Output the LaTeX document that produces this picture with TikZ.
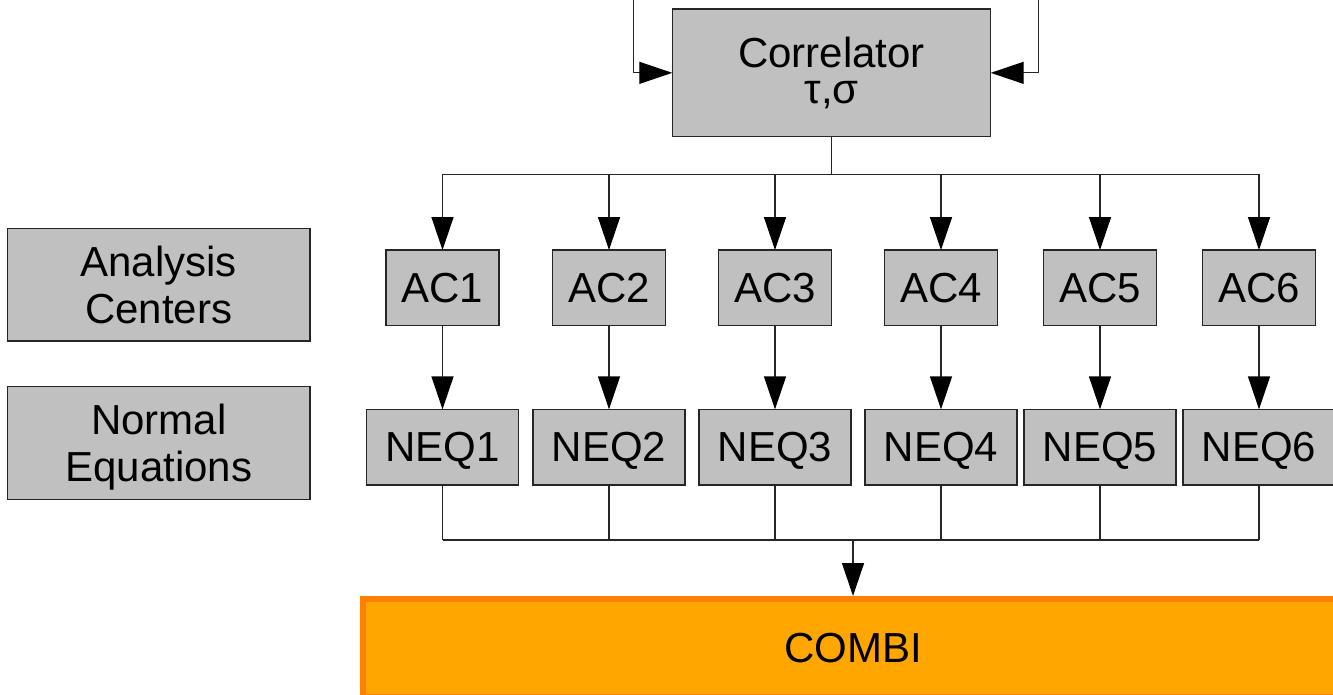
\documentclass[tikz,border=0pt]{standalone}
\usepackage{fontspec}
\setmainfont{Liberation Sans}
\usetikzlibrary{arrows.meta}
\definecolor{boxgray}{HTML}{C0C0C0}
\definecolor{combifill}{HTML}{FFA600}
\definecolor{combiedge}{HTML}{FF8000}
\begin{document}
\begin{tikzpicture}[x=0.5pt,y=-0.5pt,
  box/.style={draw=black!85, line width=0.7pt, fill=boxgray, inner sep=0pt, outer sep=0pt,
    font=\fontsize{21}{23.5}\selectfont, align=center},
  acbox/.style={box, minimum width=56.5pt, minimum height=37.85pt, text depth=0pt},
  neqbox/.style={box, minimum width=76pt, minimum height=37.85pt, text depth=0pt},
  legbox/.style={box, minimum width=151.35pt, minimum height=56.35pt},
  conn/.style={draw=black!85, line width=0.65pt},
  arr/.style={conn, -{Triangle[length=16.5pt,width=11pt,color=black]}}
]
\useasboundingbox (0,0) rectangle (1333,695);
\clip (0,0) rectangle (1333,695);

% Correlator
\node[box, minimum width=159.2pt, minimum height=63.85pt,
  font=\fontsize{21}{18.3}\selectfont] (corr) at (831.5,72.85) {Correlator\\τ,σ};

% legend boxes
\node[legbox] (legac) at (158.7,284.7) {Analysis\\Centers};
\node[legbox] (legneq) at (158.7,443) {Normal\\\smash{Equations}};

% AC and NEQ boxes
\foreach \i/\x in {1/442.5,2/609,3/775,4/941,5/1100,6/1259}{
  \node[acbox] (ac\i) at (\x,287.9) {AC\i};
  \node[neqbox] (neq\i) at (\x,447.2) {NEQ\i};
}

% COMBI
\node[draw=combiedge, fill=combifill, line width=3pt, minimum width=490pt, minimum height=49pt,
  inner sep=0pt, font=\fontsize{21}{23.5}\selectfont, text depth=0pt] (combi) at (853,648) {COMBI};

% inputs to correlator
\coordinate (inL) at (633.7,-4);
\coordinate (inR) at (1038.3,-4);
\draw[arr] (inL) |- (corr.west);
\draw[arr] (inR) |- (corr.east);

% top distribution bus
\coordinate (busT) at (831.5,174.5);
\draw[conn] (corr.south) -- (busT);
\draw[conn] (ac1.north |- busT) -- (ac6.north |- busT);
\foreach \i in {1,...,6}{
  \draw[arr] (ac\i.north |- busT) -- (ac\i.north);
  \draw[arr] (ac\i.south) -- (neq\i.north);
}

% bottom collection bus
\coordinate (busB) at (853,540);
\foreach \i in {1,...,6}{
  \draw[conn] (neq\i.south) -- (neq\i.south |- busB);
}
\draw[conn] (neq1.south |- busB) -- (neq6.south |- busB);
\draw[arr] (combi.north |- busB) -- (combi.north);
\end{tikzpicture}
\end{document}
